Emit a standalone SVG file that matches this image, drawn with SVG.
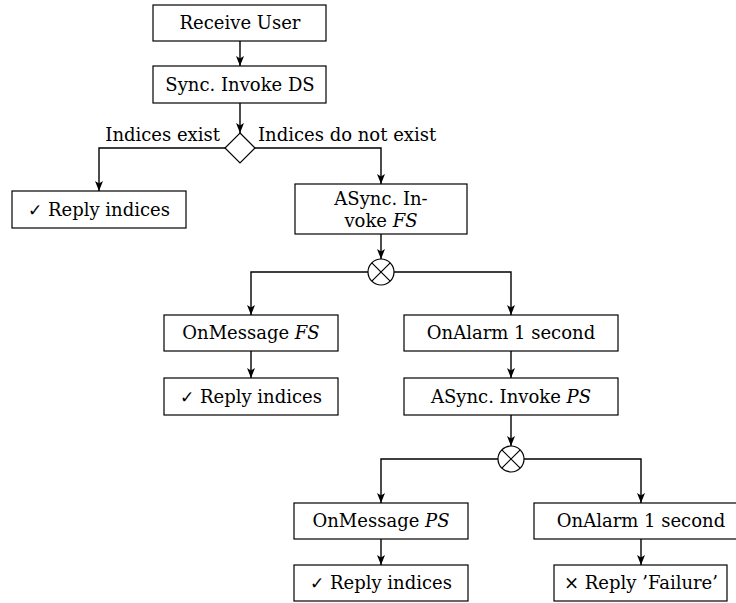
<svg xmlns="http://www.w3.org/2000/svg" width="736" height="603" viewBox="0 0 736 603">
  <style>
    .box { fill: #ffffff; stroke: #000000; stroke-width: 1.2; }
    .gate { fill: #ffffff; stroke: #000000; stroke-width: 1.2; }
    .edge { fill: none; stroke: #000000; stroke-width: 1.4; marker-end: url(#tip); }
    text { font-family: "DejaVu Serif", "Liberation Serif", serif; font-size: 18px; fill: #000000; }
    .c { text-anchor: middle; }
    .sym { font-family: "DejaVu Sans", sans-serif; font-size: 17px; }
  </style>
  <defs>
    <marker id="tip" markerUnits="userSpaceOnUse" markerWidth="11" markerHeight="9" refX="10" refY="4" orient="auto">
      <path d="M0,0 L10,4 L0,8 L2.5,4 Z" fill="#000000"/>
    </marker>
  </defs>

  <!-- connectors -->
  <g id="connectors">
    <path class="edge" d="M240,41 V66"/>
    <path class="edge" d="M240,103 V133"/>
    <path class="edge" d="M225,148 H99 V191"/>
    <path class="edge" d="M255,148 H381 V184"/>
    <path class="edge" d="M381,234 V259"/>
    <path class="edge" d="M368,272 H251 V315"/>
    <path class="edge" d="M394,272 H511 V315"/>
    <path class="edge" d="M251,351 V378"/>
    <path class="edge" d="M511,351 V378"/>
    <path class="edge" d="M511,415 V446"/>
    <path class="edge" d="M498,459 H381 V503"/>
    <path class="edge" d="M524,459 H641 V503"/>
    <path class="edge" d="M381,539 V565"/>
    <path class="edge" d="M641,539 V565"/>
    <text x="220" y="141" text-anchor="end">Indices exist</text>
    <text x="258" y="141">Indices do not exist</text>
  </g>

  <g id="receive-user">
    <rect class="box" x="153" y="5" width="173" height="36"/>
    <text class="c" x="240" y="29">Receive User</text>
  </g>

  <g id="sync-invoke-ds">
    <rect class="box" x="153" y="66" width="173" height="37"/>
    <text class="c" x="240" y="91">Sync. Invoke DS</text>
  </g>

  <g id="decision">
    <path class="gate" d="M240,133 L255,148 L240,163 L225,148 Z"/>
  </g>

  <g id="reply-indices-1">
    <rect class="box" x="12" y="191" width="174" height="37"/>
    <text class="c" x="99" y="216"><tspan class="sym">✓</tspan> Reply indices</text>
  </g>

  <g id="async-invoke-fs">
    <rect class="box" x="295" y="184" width="172" height="50"/>
    <text class="c" x="381" y="205">ASync. In-</text>
    <text class="c" x="381" y="227">voke <tspan font-style="italic">FS</tspan></text>
  </g>

  <g id="pick-1">
    <circle class="gate" cx="381" cy="272" r="13"/>
    <path d="M371.8,262.8 L390.2,281.2 M390.2,262.8 L371.8,281.2" stroke="#000" stroke-width="1.2"/>
  </g>

  <g id="onmessage-fs">
    <rect class="box" x="164" y="315" width="174" height="36"/>
    <text class="c" x="251" y="339">OnMessage <tspan font-style="italic">FS</tspan></text>
  </g>

  <g id="reply-indices-2">
    <rect class="box" x="164" y="378" width="174" height="37"/>
    <text class="c" x="251" y="403"><tspan class="sym">✓</tspan> Reply indices</text>
  </g>

  <g id="onalarm-1">
    <rect class="box" x="404" y="315" width="214" height="36"/>
    <text class="c" x="511" y="339">OnAlarm 1 second</text>
  </g>

  <g id="async-invoke-ps">
    <rect class="box" x="404" y="378" width="214" height="37"/>
    <text class="c" x="511" y="403">ASync. Invoke <tspan font-style="italic">PS</tspan></text>
  </g>

  <g id="pick-2">
    <circle class="gate" cx="511" cy="459" r="13"/>
    <path d="M501.8,449.8 L520.2,468.2 M520.2,449.8 L501.8,468.2" stroke="#000" stroke-width="1.2"/>
  </g>

  <g id="onmessage-ps">
    <rect class="box" x="294" y="503" width="174" height="36"/>
    <text class="c" x="381" y="527">OnMessage <tspan font-style="italic">PS</tspan></text>
  </g>

  <g id="reply-indices-3">
    <rect class="box" x="294" y="565" width="174" height="36"/>
    <text class="c" x="381" y="589"><tspan class="sym">✓</tspan> Reply indices</text>
  </g>

  <g id="onalarm-2">
    <rect class="box" x="534" y="503" width="214" height="36"/>
    <text class="c" x="641" y="527">OnAlarm 1 second</text>
  </g>

  <g id="reply-failure">
    <rect class="box" x="554" y="565" width="173" height="36"/>
    <text class="c" x="641" y="589">× Reply ’Failure’</text>
  </g>
</svg>
